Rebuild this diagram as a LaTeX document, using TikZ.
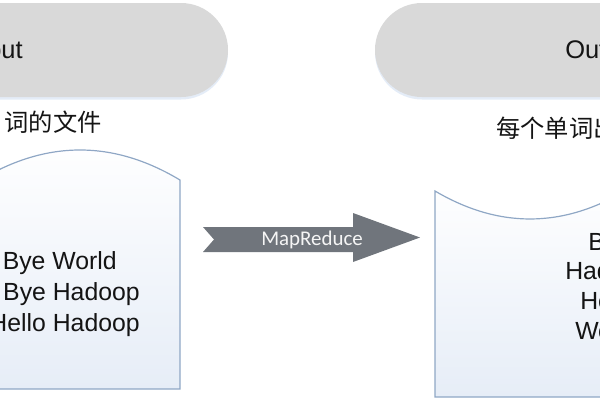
\documentclass[tikz,border=0pt]{standalone}
\usepackage{fontspec}
\setmainfont{Liberation Sans}
\newfontfamily\cjkfont{Noto Sans CJK SC}
\newfontfamily\calfont{Carlito}
\usetikzlibrary{shapes.misc}
\definecolor{pillgray}{RGB}{217,217,217}
\definecolor{boxline}{RGB}{143,167,197}
\definecolor{boxfill}{RGB}{230,237,247}
\definecolor{arrowgray}{RGB}{112,117,124}
\definecolor{shadowblue}{RGB}{228,236,247}
\definecolor{txt}{RGB}{20,20,20}
\tikzset{
  pill/.style={rounded rectangle, fill=pillgray, minimum width=351pt, minimum height=70.5pt, inner sep=0pt},
  pillshadow/.style={rounded rectangle, fill=shadowblue, minimum width=351pt, minimum height=70.5pt, inner sep=0pt},
  pilltext/.style={inner sep=0pt, text=txt, font=\fontsize{19.1}{23}\selectfont},
  cjktext/.style={inner sep=0pt, text=txt, font=\cjkfont\fontsize{18.2}{22}\selectfont},
  boxtext/.style={inner sep=0pt, text=txt, font=\fontsize{18.6}{22}\selectfont},
  docbox/.style={draw=boxline, line width=0.9pt, top color=white, bottom color=boxfill},
  bigarrow/.style={fill=arrowgray},
  arrowtext/.style={inner sep=0pt, text={rgb,255:red,245;green,245;blue,245}, font=\calfont\fontsize{15.7}{18}\selectfont}
}
\begin{document}
\begin{tikzpicture}[x=0.75pt,y=-0.75pt]
\useasboundingbox (0,0) rectangle (600,400);
\clip (0,0) rectangle (600,400);
% pills
\node[pillshadow] (inshadow) at (-6,52.5) {};
\node[pill] (inpill) at (-6,50) {};
\node[pillshadow] (outshadow) at (609,52.5) {};
\node[pill] (outpill) at (609,50) {};
\node[pilltext, anchor=base east] (intext) at (23,58.5) {Input};
\node[pilltext, anchor=base west] (outtext) at (565,58.5) {Output};
% captions
\node[cjktext, anchor=base east] (incap) at (102,131) {词的文件};
\node[cjktext, anchor=base west] (outcap) at (496,137) {每个单词出};
% left document box
\path[docbox] (180,389) -- (180,180) .. controls (113.3,140) and (46.7,140) .. (-20,180) -- (-40,200) -- (-40,389) -- cycle;
\coordinate (inbox) at (80,270);
\node[boxtext, anchor=base east] (l1) at (117,269) {Bye World};
\node[boxtext, anchor=base east] (l2) at (140,300) {Bye Hadoop};
\node[boxtext, anchor=base east] (l3) at (140,331) {Hello Hadoop};
% right document box
\path[docbox] (435,397) -- (435,191) .. controls (498.3,228.3) and (561.7,228.3) .. (625,191) -- (650,180) -- (650,397) -- cycle;
\coordinate (outbox) at (520,290);
\node[boxtext, anchor=base west] (r1) at (588,250) {Bye};
\node[boxtext, anchor=base west] (r2) at (565,279.5) {Hadoop};
\node[boxtext, anchor=base west] (r3) at (580,309.5) {Hello};
\node[boxtext, anchor=base west] (r4) at (575,339.5) {World};
% MapReduce arrow
\path[bigarrow] (203,227) -- (353,227) -- (353,213) -- (420,237.5) -- (353,262) -- (353,252) -- (203,252) -- (214,239.5) -- cycle;
\node[arrowtext, anchor=base west] (mr) at (261,245.5) {MapReduce};
\end{tikzpicture}
\end{document}
